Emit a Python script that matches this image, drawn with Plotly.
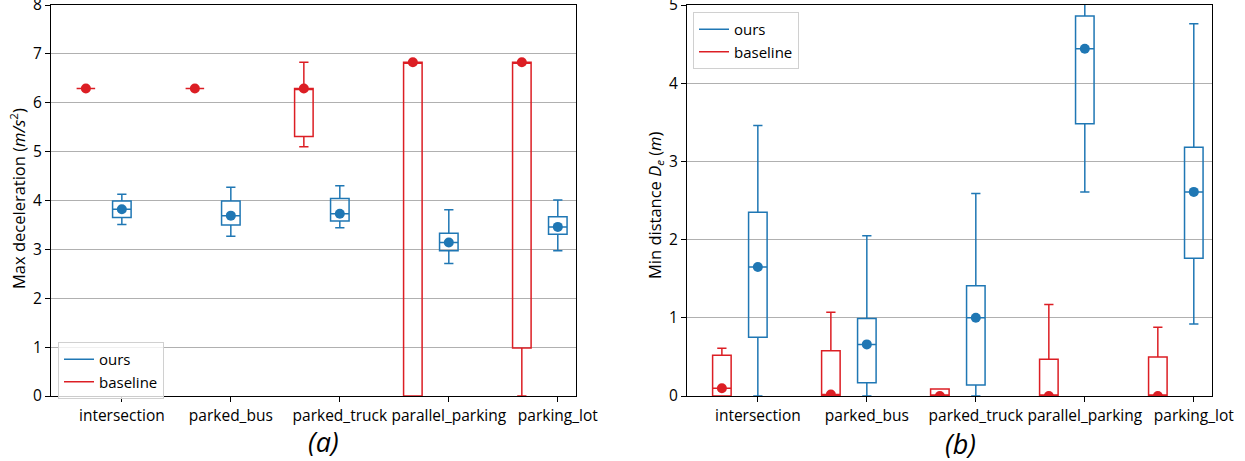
import plotly.graph_objects as go

W, H = 1245, 461

scenarios = ["intersection", "parked_bus", "parked_truck", "parallel_parking", "parking_lot"]

# (a) max deceleration statistics per scenario
decel_ours_low = [3.51, 3.27, 3.44, 2.71, 2.97]
decel_ours_q1 = [3.65, 3.50, 3.58, 2.97, 3.31]
decel_ours_med = [3.82, 3.69, 3.73, 3.14, 3.46]
decel_ours_q3 = [3.99, 3.99, 4.04, 3.33, 3.67]
decel_ours_high = [4.13, 4.27, 4.30, 3.81, 4.01]
decel_ours_mean = [3.82, 3.69, 3.73, 3.14, 3.46]

decel_base_low = [6.29, 6.29, 5.10, 0.0, 0.0]
decel_base_q1 = [6.29, 6.29, 5.31, 0.0, 0.98]
decel_base_med = [6.29, 6.29, 6.29, 6.83, 6.83]
decel_base_q3 = [6.29, 6.29, 6.29, 6.83, 6.83]
decel_base_high = [6.29, 6.29, 6.83, 6.83, 6.83]
decel_base_mean = [6.29, 6.29, 6.29, 6.83, 6.83]

# (b) minimum distance statistics per scenario
dist_ours_low = [0.0, 0.0, 0.0, 2.61, 0.92]
dist_ours_q1 = [0.75, 0.17, 0.14, 3.48, 1.76]
dist_ours_med = [1.65, 0.66, 1.00, 4.44, 2.61]
dist_ours_q3 = [2.35, 0.99, 1.41, 4.86, 3.18]
dist_ours_high = [3.46, 2.05, 2.59, 5.40, 4.76]
dist_ours_mean = [1.65, 0.66, 1.00, 4.44, 2.61]

dist_base_low = [0.0, 0.0, 0.0, 0.0, 0.0]
dist_base_q1 = [0.0, 0.0, 0.0, 0.0, 0.0]
dist_base_med = [0.10, 0.02, 0.0, 0.0, 0.0]
dist_base_q3 = [0.52, 0.58, 0.09, 0.47, 0.50]
dist_base_high = [0.61, 1.07, 0.09, 1.17, 0.88]
dist_base_mean = [0.10, 0.02, 0.0, 0.0, 0.0]

BLUE = "#1f77b4"
RED = "#dc1e24"
FONT = "Open Sans"
BOX_W = 0.17
BASE_SHIFT = 0.33

pos = [i + 1 for i in range(len(scenarios))]
pos_base = [p - BASE_SHIFT for p in pos]

fig = go.Figure()


def add_boxes(xs, low, q1, med, q3, high, mean, color, xa, ya):
    fig.add_trace(go.Box(
        x=xs, lowerfence=low, q1=q1, median=med, q3=q3, upperfence=high,
        width=BOX_W, whiskerwidth=0.5, boxpoints=False,
        line=dict(color=color, width=1.5), fillcolor="rgba(0,0,0,0)",
        showlegend=False, hoverinfo="skip", xaxis=xa, yaxis=ya,
    ))
    fig.add_trace(go.Scatter(
        x=xs, y=mean, mode="markers",
        marker=dict(color=color, size=10),
        showlegend=False, hoverinfo="skip", xaxis=xa, yaxis=ya,
    ))


add_boxes(pos_base, decel_base_low, decel_base_q1, decel_base_med, decel_base_q3,
          decel_base_high, decel_base_mean, RED, "x", "y")
add_boxes(pos, decel_ours_low, decel_ours_q1, decel_ours_med, decel_ours_q3,
          decel_ours_high, decel_ours_mean, BLUE, "x", "y")
add_boxes(pos_base, dist_base_low, dist_base_q1, dist_base_med, dist_base_q3,
          dist_base_high, dist_base_mean, RED, "x2", "y2")
add_boxes(pos, dist_ours_low, dist_ours_q1, dist_ours_med, dist_ours_q3,
          dist_ours_high, dist_ours_mean, BLUE, "x2", "y2")

# legend entries drawn as plain line samples
for leg, xa, ya in (("legend", "x", "y"), ("legend2", "x2", "y2")):
    for name, color in (("ours", BLUE), ("baseline", RED)):
        fig.add_trace(go.Scatter(
            x=[None], y=[None], mode="lines", name=name,
            line=dict(color=color, width=1.5),
            legend=leg, xaxis=xa, yaxis=ya,
        ))

y_dom = [65 / H, 456 / H]
xa_common = dict(
    tickmode="array", tickvals=pos, ticktext=scenarios,
    ticks="outside", ticklen=5, tickcolor="black", tickwidth=1,
    showline=True, mirror=True, linecolor="black", linewidth=1,
    showgrid=False, zeroline=False, range=[0.35, 5.167], automargin=False,
    tickfont=dict(size=15.5, color="black"), ticklabeloverflow="allow",
)
ya_common = dict(
    ticks="outside", ticklen=5, tickcolor="black", tickwidth=1,
    showline=True, mirror=True, linecolor="black", linewidth=1,
    showgrid=True, gridcolor="#b0b0b0", gridwidth=1, zeroline=False,
    dtick=1, tickfont=dict(size=15.5, color="black"), domain=y_dom,
    automargin=False, ticklabeloverflow="allow",
)

legend_common = dict(
    bgcolor="rgba(255,255,255,0.8)", bordercolor="#d0d0d0", borderwidth=1,
    font=dict(size=15, color="black", family=FONT),
    xanchor="left", yanchor="top", tracegroupgap=0, itemwidth=30,
)


def note(text, x, y, size, angle=0):
    return dict(text=text, textangle=angle, x=x / W, y=(H - y) / H,
                xref="paper", yref="paper", xanchor="center", yanchor="middle",
                showarrow=False, font=dict(size=size, color="black"))


fig.update_layout(
    width=W, height=H,
    margin=dict(l=0, r=0, t=0, b=0, pad=0, autoexpand=False),
    paper_bgcolor="white", plot_bgcolor="white",
    font=dict(family=FONT, color="black"),
    boxmode="overlay",
    xaxis=dict(domain=[51 / W, 576 / W], anchor="y", **xa_common),
    yaxis=dict(anchor="x", range=[0, 8], **ya_common),
    xaxis2=dict(domain=[687 / W, 1212 / W], anchor="y2", **xa_common),
    yaxis2=dict(anchor="x2", range=[0, 5], **ya_common),
    legend=dict(x=58 / W, y=(H - 342) / H, **legend_common),
    legend2=dict(x=693 / W, y=(H - 12) / H, **legend_common),
    annotations=[
        note("Max deceleration (<i>m/s</i><sup>2</sup>)", 18, 199, 16.5, -90),
        note("Min distance <i>D</i><sub><i>e</i></sub> (<i>m</i>)", 655, 205, 16.5, -90),
        note("<i>(a)</i>", 323, 441, 27),
        note("<i>(b)</i>", 960, 443, 27),
    ],
)

fig.write_html("out.html")
